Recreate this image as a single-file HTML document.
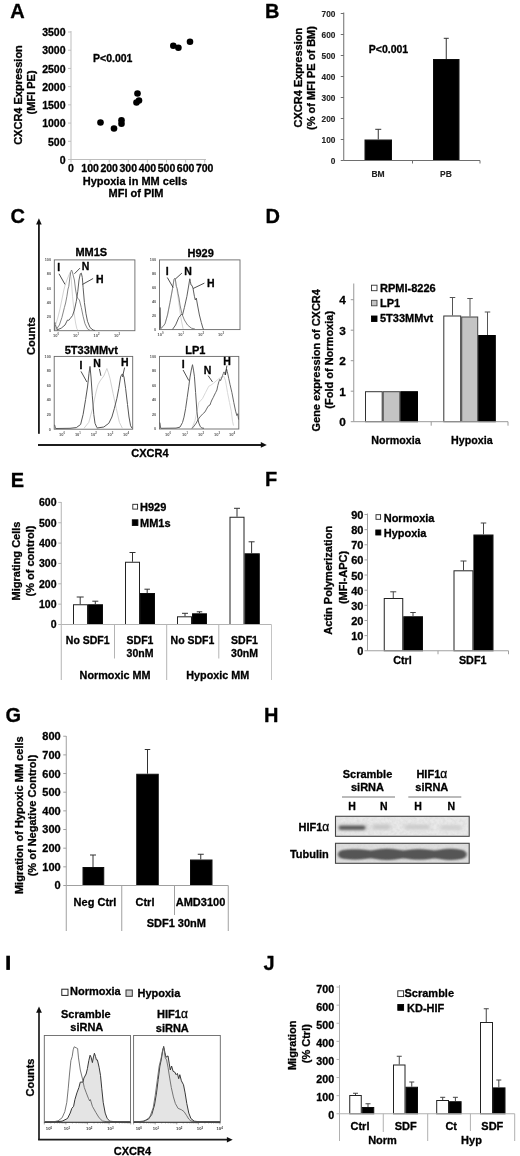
<!DOCTYPE html>
<html><head><meta charset="utf-8"><title>Figure</title>
<style>
html,body{margin:0;padding:0;background:#fff;}
body{width:520px;height:1156px;overflow:hidden;}
svg{display:block;font-family:"Liberation Sans", sans-serif;}
text{stroke:#000;stroke-width:0.3px;stroke-linejoin:round;}
text.t{stroke:none;}
text.b{stroke-width:0.12px;stroke:#222;}
</style></head>
<body>
<svg width="520" height="1156" viewBox="0 0 520 1156">
<defs><filter id="gb" x="0" y="0" width="100%" height="100%" filterUnits="userSpaceOnUse"><feGaussianBlur stdDeviation="0.42"/></filter><filter id="gb2" x="0" y="0" width="100%" height="100%" filterUnits="userSpaceOnUse"><feGaussianBlur stdDeviation="0.2"/></filter></defs>
<rect x="0" y="0" width="520" height="1156" fill="#fff"/>
<g filter="url(#gb)">
<rect x="0" y="0" width="520" height="1156" fill="#fff"/>
<text x="10.3" y="17.6" font-size="20" text-anchor="start" font-weight="bold" fill="#000">A</text>
<text x="65.5" y="163.78" font-size="10.5" text-anchor="end" font-weight="bold" fill="#000">0</text>
<text x="65.5" y="145.56571428571428" font-size="10.5" text-anchor="end" font-weight="bold" fill="#000">500</text>
<text x="65.5" y="127.35142857142857" font-size="10.5" text-anchor="end" font-weight="bold" fill="#000">1000</text>
<text x="65.5" y="109.13714285714286" font-size="10.5" text-anchor="end" font-weight="bold" fill="#000">1500</text>
<text x="65.5" y="90.92285714285714" font-size="10.5" text-anchor="end" font-weight="bold" fill="#000">2000</text>
<text x="65.5" y="72.70857142857142" font-size="10.5" text-anchor="end" font-weight="bold" fill="#000">2500</text>
<text x="65.5" y="54.49428571428571" font-size="10.5" text-anchor="end" font-weight="bold" fill="#000">3000</text>
<text x="65.5" y="36.28" font-size="10.5" text-anchor="end" font-weight="bold" fill="#000">3500</text>
<text x="71.0" y="172" font-size="10.5" text-anchor="middle" font-weight="bold" fill="#000">0</text>
<text x="90.1" y="172" font-size="10.5" text-anchor="middle" font-weight="bold" fill="#000">100</text>
<text x="109.2" y="172" font-size="10.5" text-anchor="middle" font-weight="bold" fill="#000">200</text>
<text x="128.3" y="172" font-size="10.5" text-anchor="middle" font-weight="bold" fill="#000">300</text>
<text x="147.4" y="172" font-size="10.5" text-anchor="middle" font-weight="bold" fill="#000">400</text>
<text x="166.5" y="172" font-size="10.5" text-anchor="middle" font-weight="bold" fill="#000">500</text>
<text x="185.60000000000002" y="172" font-size="10.5" text-anchor="middle" font-weight="bold" fill="#000">600</text>
<text x="204.70000000000002" y="172" font-size="10.5" text-anchor="middle" font-weight="bold" fill="#000">700</text>
<circle cx="100.5" cy="122.5" r="3.3" fill="#000"/>
<circle cx="114" cy="128.5" r="3.3" fill="#000"/>
<circle cx="121.5" cy="120.3" r="3.3" fill="#000"/>
<circle cx="121.5" cy="123.7" r="3.3" fill="#000"/>
<circle cx="137.5" cy="93.5" r="3.3" fill="#000"/>
<circle cx="136.5" cy="102.5" r="3.3" fill="#000"/>
<circle cx="139" cy="100.5" r="3.3" fill="#000"/>
<circle cx="173.3" cy="45.8" r="3.3" fill="#000"/>
<circle cx="178.4" cy="47.8" r="3.3" fill="#000"/>
<circle cx="190" cy="41.8" r="3.3" fill="#000"/>
<text x="93" y="62.3" font-size="10.5" text-anchor="start" font-weight="bold" fill="#000">P&lt;0.001</text>
<text font-size="11" font-weight="bold" text-anchor="middle" transform="translate(21.96,95) rotate(-90)">CXCR4 Expression</text>
<text font-size="11" font-weight="bold" text-anchor="middle" transform="translate(34.96,92.4) rotate(-90)">(MFI PE)</text>
<text x="135" y="185" font-size="11" text-anchor="middle" font-weight="bold" fill="#000">Hypoxia in MM cells</text>
<text x="136" y="197" font-size="11" text-anchor="middle" font-weight="bold" fill="#000">MFI of PIM</text>
<text x="265" y="18" font-size="20" text-anchor="start" font-weight="bold" fill="#000">B</text>
<text x="335.4" y="164.188" font-size="8.3" text-anchor="end" font-weight="bold" fill="#222" class="b">0</text>
<text x="335.4" y="143.188" font-size="8.3" text-anchor="end" font-weight="bold" fill="#222" class="b">100</text>
<text x="335.4" y="122.188" font-size="8.3" text-anchor="end" font-weight="bold" fill="#222" class="b">200</text>
<text x="335.4" y="101.188" font-size="8.3" text-anchor="end" font-weight="bold" fill="#222" class="b">300</text>
<text x="335.4" y="80.188" font-size="8.3" text-anchor="end" font-weight="bold" fill="#222" class="b">400</text>
<text x="335.4" y="59.188" font-size="8.3" text-anchor="end" font-weight="bold" fill="#222" class="b">500</text>
<text x="335.4" y="38.188" font-size="8.3" text-anchor="end" font-weight="bold" fill="#222" class="b">600</text>
<text x="335.4" y="17.188" font-size="8.3" text-anchor="end" font-weight="bold" fill="#222" class="b">700</text>
<rect x="365.0" y="140.0" width="26.5" height="20.5" fill="#000" stroke="#111" stroke-width="1"/>
<line x1="378.25" y1="129.3" x2="378.25" y2="139.5" stroke="#333" stroke-width="1"/>
<line x1="375.25" y1="129.3" x2="381.25" y2="129.3" stroke="#333" stroke-width="1"/>
<rect x="433.5" y="59.5" width="25.5" height="101.0" fill="#000" stroke="#111" stroke-width="1"/>
<line x1="446.25" y1="38.3" x2="446.25" y2="59" stroke="#333" stroke-width="1"/>
<line x1="443.75" y1="38.3" x2="448.75" y2="38.3" stroke="#333" stroke-width="1"/>
<text x="378" y="176.8" font-size="8.5" text-anchor="middle" font-weight="bold" fill="#222" class="b">BM</text>
<text x="446" y="176.8" font-size="8.5" text-anchor="middle" font-weight="bold" fill="#222" class="b">PB</text>
<text x="368.8" y="53" font-size="10.5" text-anchor="start" font-weight="bold" fill="#000">P&lt;0.001</text>
<text font-size="11" font-weight="bold" text-anchor="middle" transform="translate(302.15999999999997,77.6) rotate(-90)">CXCR4 Expression</text>
<text font-size="11" font-weight="bold" text-anchor="middle" transform="translate(314.96,78) rotate(-90)">(% of MFI PE of BM)</text>
<text x="10.5" y="223" font-size="20" text-anchor="start" font-weight="bold" fill="#000">C</text>
<line x1="38.9" y1="223" x2="38.9" y2="433.8" stroke="#1a1a1a" stroke-width="1.85"/>
<path d="M38.9 218.3 L36.1 224.4 L41.7 224.4 Z" fill="#111"/>
<line x1="38" y1="445" x2="262" y2="445" stroke="#1a1a1a" stroke-width="1.85"/>
<path d="M266.8 444.9 L260.8 442.1 L260.8 447.7 Z" fill="#111"/>
<text font-size="11" font-weight="bold" text-anchor="middle" transform="translate(34.96,336) rotate(-90)">Counts</text>
<text x="150" y="456.5" font-size="11" text-anchor="middle" font-weight="bold" fill="#000">CXCR4</text>
<rect x="54.3" y="259.9" width="80.60000000000001" height="70.80000000000001" fill="none" stroke="#686868" stroke-width="0.9"/>
<text x="51.0" y="261.2" font-size="3.8" text-anchor="end" font-weight="bold" fill="#555" class="t">100</text>
<text x="51.0" y="275.36" font-size="3.8" text-anchor="end" font-weight="bold" fill="#555" class="t">80</text>
<text x="51.0" y="289.52" font-size="3.8" text-anchor="end" font-weight="bold" fill="#555" class="t">60</text>
<text x="51.0" y="303.68" font-size="3.8" text-anchor="end" font-weight="bold" fill="#555" class="t">40</text>
<text x="51.0" y="317.84" font-size="3.8" text-anchor="end" font-weight="bold" fill="#555" class="t">20</text>
<text x="51.0" y="332.0" font-size="3.8" text-anchor="end" font-weight="bold" fill="#555" class="t">0</text>
<text x="56" y="336.5" class="t" font-size="4" text-anchor="middle" font-weight="bold" fill="#555">10<tspan dy="-1.6" font-size="2.8">0</tspan></text>
<text x="76" y="336.5" class="t" font-size="4" text-anchor="middle" font-weight="bold" fill="#555">10<tspan dy="-1.6" font-size="2.8">1</tspan></text>
<text x="96.5" y="336.5" class="t" font-size="4" text-anchor="middle" font-weight="bold" fill="#555">10<tspan dy="-1.6" font-size="2.8">2</tspan></text>
<text x="117" y="336.5" class="t" font-size="4" text-anchor="middle" font-weight="bold" fill="#555">10<tspan dy="-1.6" font-size="2.8">3</tspan></text>
<text x="91.3" y="256.3" font-size="11" text-anchor="middle" font-weight="bold" fill="#000">MM1S</text>
<path d="M54.8 330.0 L55.0 322.5 L55.8 326.0 L57.5 330.2" fill="none" stroke="#565656" stroke-width="0.8" stroke-linejoin="round" opacity="1"/>
<path d="M55.6 325.0 L58.0 317.0 L60.0 308.8 L62.0 299.0 L63.8 290.0 L65.3 284.5 L66.9 280.0 L68.5 276.0 L70.0 272.5 L71.2 278.0 L72.5 296.3 L73.5 306.0 L74.4 315.0 L75.6 323.0 L76.9 328.8 L78.0 330.3" fill="none" stroke="#cccccc" stroke-width="0.85" stroke-linejoin="round" opacity="1"/>
<path d="M56.3 329.4 L59.4 325.0 L61.9 317.5 L64.4 307.5 L65.6 303.0 L66.9 296.3 L68.0 289.0 L68.8 286.3 L70.0 276.3 L70.8 272.0 L71.5 270.0 L72.3 271.5 L73.1 275.0 L74.4 280.0 L75.6 290.0 L76.9 296.9 L78.0 298.5 L79.4 300.0 L81.3 307.5 L83.1 316.3 L85.0 323.8 L87.5 328.8 L90.0 330.4" fill="none" stroke="#787878" stroke-width="0.9" stroke-linejoin="round" opacity="1"/>
<path d="M56.9 330.0 L61.3 328.1 L65.0 325.0 L67.5 320.0 L68.8 320.3 L70.0 318.8 L72.5 315.6 L74.4 310.0 L76.3 301.3 L77.8 291.3 L79.0 280.0 L80.3 273.8 L81.3 273.1 L82.3 277.5 L83.1 287.5 L84.4 302.5 L86.0 313.8 L87.5 321.3 L90.0 327.5 L93.1 330.0 L95.0 330.5" fill="none" stroke="#565656" stroke-width="0.95" stroke-linejoin="round" opacity="1"/>
<text x="58.8" y="271.3" font-size="10.5" text-anchor="middle" font-weight="bold" fill="#000">I</text>
<text x="85.6" y="269.8" font-size="10.5" text-anchor="middle" font-weight="bold" fill="#000">N</text>
<text x="99.7" y="282.8" font-size="10.5" text-anchor="middle" font-weight="bold" fill="#000">H</text>
<line x1="59" y1="273.8" x2="65" y2="284.4" stroke="#222" stroke-width="0.8"/>
<line x1="80" y1="268.1" x2="74.4" y2="273.8" stroke="#222" stroke-width="0.8"/>
<line x1="93.1" y1="278.5" x2="82.5" y2="284.4" stroke="#222" stroke-width="0.8"/>
<rect x="159.5" y="259.9" width="80.5" height="69.70000000000005" fill="none" stroke="#686868" stroke-width="0.9"/>
<text x="156.2" y="261.2" font-size="3.8" text-anchor="end" font-weight="bold" fill="#555" class="t">100</text>
<text x="156.2" y="275.14" font-size="3.8" text-anchor="end" font-weight="bold" fill="#555" class="t">80</text>
<text x="156.2" y="289.08" font-size="3.8" text-anchor="end" font-weight="bold" fill="#555" class="t">60</text>
<text x="156.2" y="303.02000000000004" font-size="3.8" text-anchor="end" font-weight="bold" fill="#555" class="t">40</text>
<text x="156.2" y="316.96000000000004" font-size="3.8" text-anchor="end" font-weight="bold" fill="#555" class="t">20</text>
<text x="156.2" y="330.90000000000003" font-size="3.8" text-anchor="end" font-weight="bold" fill="#555" class="t">0</text>
<text x="160.5" y="335.5" class="t" font-size="4" text-anchor="middle" font-weight="bold" fill="#555">10<tspan dy="-1.6" font-size="2.8">0</tspan></text>
<text x="181" y="335.5" class="t" font-size="4" text-anchor="middle" font-weight="bold" fill="#555">10<tspan dy="-1.6" font-size="2.8">1</tspan></text>
<text x="201" y="335.5" class="t" font-size="4" text-anchor="middle" font-weight="bold" fill="#555">10<tspan dy="-1.6" font-size="2.8">2</tspan></text>
<text x="221" y="335.5" class="t" font-size="4" text-anchor="middle" font-weight="bold" fill="#555">10<tspan dy="-1.6" font-size="2.8">3</tspan></text>
<text x="200.7" y="256.8" font-size="11" text-anchor="middle" font-weight="bold" fill="#000">H929</text>
<path d="M159.9 329.0 L160.0 307.5 L160.7 329.0" fill="none" stroke="#565656" stroke-width="0.9" stroke-linejoin="round" opacity="1"/>
<path d="M160.6 328.8 L165.0 323.8 L167.5 315.0 L170.0 302.5 L172.5 288.8 L174.0 279.6 L175.0 278.5 L176.8 289.0 L178.8 302.5 L180.0 312.0 L181.3 320.0 L183.1 328.8" fill="none" stroke="#cccccc" stroke-width="0.85" stroke-linejoin="round" opacity="1"/>
<path d="M160.6 328.8 L163.0 326.5 L165.0 323.8 L167.5 315.0 L170.0 302.5 L172.5 288.8 L174.0 279.4 L175.0 278.1 L175.6 281.0 L176.3 286.3 L177.2 288.5 L178.1 293.8 L179.0 298.0 L180.0 305.0 L181.9 313.8 L184.4 320.0 L187.5 325.0 L191.3 328.1 L195.0 329.1" fill="none" stroke="#787878" stroke-width="0.9" stroke-linejoin="round" opacity="1"/>
<path d="M172.5 329.4 L175.6 325.0 L178.8 317.5 L181.3 314.4 L182.5 315.0 L184.4 307.5 L186.9 296.3 L188.8 285.0 L189.8 278.8 L190.4 281.5 L191.0 285.0 L192.1 285.6 L193.1 288.8 L194.4 296.3 L195.3 300.0 L196.3 298.1 L197.5 305.0 L199.4 315.0 L201.3 322.5 L203.1 328.8 L204.0 329.4" fill="none" stroke="#565656" stroke-width="0.95" stroke-linejoin="round" opacity="1"/>
<text x="167.2" y="275" font-size="10.5" text-anchor="middle" font-weight="bold" fill="#000">I</text>
<text x="188.1" y="274.6" font-size="10.5" text-anchor="middle" font-weight="bold" fill="#000">N</text>
<text x="210.9" y="286.9" font-size="10.5" text-anchor="middle" font-weight="bold" fill="#000">H</text>
<line x1="167.3" y1="277.5" x2="173.1" y2="287.5" stroke="#222" stroke-width="0.8"/>
<line x1="181.9" y1="273.1" x2="175.6" y2="278.8" stroke="#222" stroke-width="0.8"/>
<line x1="204.4" y1="283.1" x2="193.1" y2="288.5" stroke="#222" stroke-width="0.8"/>
<rect x="54.2" y="356.4" width="78.49999999999999" height="72.80000000000001" fill="none" stroke="#686868" stroke-width="0.9"/>
<text x="50.900000000000006" y="357.7" font-size="3.8" text-anchor="end" font-weight="bold" fill="#555" class="t">100</text>
<text x="50.900000000000006" y="372.26" font-size="3.8" text-anchor="end" font-weight="bold" fill="#555" class="t">80</text>
<text x="50.900000000000006" y="386.82" font-size="3.8" text-anchor="end" font-weight="bold" fill="#555" class="t">60</text>
<text x="50.900000000000006" y="401.38" font-size="3.8" text-anchor="end" font-weight="bold" fill="#555" class="t">40</text>
<text x="50.900000000000006" y="415.94" font-size="3.8" text-anchor="end" font-weight="bold" fill="#555" class="t">20</text>
<text x="50.900000000000006" y="430.5" font-size="3.8" text-anchor="end" font-weight="bold" fill="#555" class="t">0</text>
<text x="62.1" y="436" class="t" font-size="4" text-anchor="middle" font-weight="bold" fill="#555">10<tspan dy="-1.6" font-size="2.8">0</tspan></text>
<text x="77.9" y="436" class="t" font-size="4" text-anchor="middle" font-weight="bold" fill="#555">10<tspan dy="-1.6" font-size="2.8">1</tspan></text>
<text x="93.8" y="436" class="t" font-size="4" text-anchor="middle" font-weight="bold" fill="#555">10<tspan dy="-1.6" font-size="2.8">2</tspan></text>
<text x="110.2" y="436" class="t" font-size="4" text-anchor="middle" font-weight="bold" fill="#555">10<tspan dy="-1.6" font-size="2.8">3</tspan></text>
<text x="126" y="436" class="t" font-size="4" text-anchor="middle" font-weight="bold" fill="#555">10<tspan dy="-1.6" font-size="2.8">4</tspan></text>
<text x="91.3" y="354" font-size="11" text-anchor="middle" font-weight="bold" fill="#000">5T33MMvt</text>
<path d="M54.6 424.8 L55.6 428.5" fill="none" stroke="#565656" stroke-width="0.9" stroke-linejoin="round" opacity="1"/>
<path d="M83.8 428.5 L88.8 422.3 L92.5 408.8 L94.4 399.8 L96.3 391.0 L98.0 384.8 L100.0 381.0 L102.0 378.3 L103.8 376.0 L105.5 371.8 L106.9 368.5 L108.4 372.8 L110.0 378.5 L113.1 393.5 L116.3 408.5 L119.4 422.3 L122.5 428.5" fill="none" stroke="#cccccc" stroke-width="0.9" stroke-linejoin="round" opacity="1"/>
<path d="M55.6 428.5 L70.0 428.3 L76.3 427.6 L80.6 424.5 L83.1 414.5 L85.6 399.5 L87.5 387.0 L89.0 373.3 L90.0 366.4 L91.0 377.0 L92.3 395.8 L93.8 414.5 L95.0 423.3 L96.9 427.6" fill="none" stroke="#565656" stroke-width="1.0" stroke-linejoin="round" opacity="1"/>
<path d="M96.9 428.0 L103.8 427.0 L108.8 423.3 L111.9 417.0 L114.4 408.3 L116.9 398.3 L118.8 388.3 L120.6 377.0 L121.6 374.8 L122.5 373.9 L124.0 377.0 L125.6 388.3 L127.5 404.5 L129.0 417.0 L130.6 425.8 L132.1 428.3" fill="none" stroke="#565656" stroke-width="1.0" stroke-linejoin="round" opacity="1"/>
<text x="81" y="369.2" font-size="10.5" text-anchor="middle" font-weight="bold" fill="#000">I</text>
<text x="97" y="367.2" font-size="10.5" text-anchor="middle" font-weight="bold" fill="#000">N</text>
<text x="124.7" y="366" font-size="10.5" text-anchor="middle" font-weight="bold" fill="#000">H</text>
<line x1="81" y1="371.4" x2="86.9" y2="382" stroke="#222" stroke-width="0.8"/>
<line x1="99.4" y1="368.9" x2="100.9" y2="375.8" stroke="#222" stroke-width="0.8"/>
<line x1="124.6" y1="367.6" x2="122.5" y2="377" stroke="#222" stroke-width="0.8"/>
<rect x="159.5" y="356.4" width="79.30000000000001" height="72.60000000000002" fill="none" stroke="#686868" stroke-width="0.9"/>
<text x="156.2" y="357.7" font-size="3.8" text-anchor="end" font-weight="bold" fill="#555" class="t">100</text>
<text x="156.2" y="372.21999999999997" font-size="3.8" text-anchor="end" font-weight="bold" fill="#555" class="t">80</text>
<text x="156.2" y="386.74" font-size="3.8" text-anchor="end" font-weight="bold" fill="#555" class="t">60</text>
<text x="156.2" y="401.26" font-size="3.8" text-anchor="end" font-weight="bold" fill="#555" class="t">40</text>
<text x="156.2" y="415.78000000000003" font-size="3.8" text-anchor="end" font-weight="bold" fill="#555" class="t">20</text>
<text x="156.2" y="430.3" font-size="3.8" text-anchor="end" font-weight="bold" fill="#555" class="t">0</text>
<text x="168" y="435.5" class="t" font-size="4" text-anchor="middle" font-weight="bold" fill="#555">10<tspan dy="-1.6" font-size="2.8">0</tspan></text>
<text x="185" y="435.5" class="t" font-size="4" text-anchor="middle" font-weight="bold" fill="#555">10<tspan dy="-1.6" font-size="2.8">1</tspan></text>
<text x="201" y="435.5" class="t" font-size="4" text-anchor="middle" font-weight="bold" fill="#555">10<tspan dy="-1.6" font-size="2.8">2</tspan></text>
<text x="217" y="435.5" class="t" font-size="4" text-anchor="middle" font-weight="bold" fill="#555">10<tspan dy="-1.6" font-size="2.8">3</tspan></text>
<text x="232" y="435.5" class="t" font-size="4" text-anchor="middle" font-weight="bold" fill="#555">10<tspan dy="-1.6" font-size="2.8">4</tspan></text>
<text x="195.4" y="354" font-size="11" text-anchor="middle" font-weight="bold" fill="#000">LP1</text>
<path d="M159.9 422.6 L160.7 428.3" fill="none" stroke="#565656" stroke-width="0.9" stroke-linejoin="round" opacity="1"/>
<path d="M192.0 428.1 L195.0 420.6 L198.8 402.6 L202.5 398.6 L205.5 392.6 L208.8 386.2 L211.0 385.1 L213.8 383.0 L216.0 381.1 L218.8 378.7 L221.0 377.6 L223.8 376.2 L225.5 380.6 L227.5 392.5 L229.5 402.6 L231.3 411.2 L232.5 421.2 L233.5 425.6" fill="none" stroke="#d4d4d4" stroke-width="0.9" stroke-linejoin="round" opacity="1"/>
<path d="M160.7 428.3 L176.0 428.1 L180.0 427.1 L182.5 422.5 L184.0 417.1 L185.6 408.7 L187.2 397.6 L188.8 386.2 L190.0 377.1 L191.3 370.0 L192.5 364.7 L193.5 370.1 L194.4 376.2 L195.6 392.5 L196.9 411.2 L197.8 418.6 L198.8 423.0 L200.3 426.6 L201.9 428.0 L204.0 428.3" fill="none" stroke="#565656" stroke-width="0.95" stroke-linejoin="round" opacity="1"/>
<path d="M191.9 428.6 L194.0 426.1 L196.3 423.0 L198.0 419.6 L200.0 416.9 L202.5 414.1 L205.0 411.9 L206.5 409.1 L208.1 406.2 L210.0 405.0 L211.0 402.1 L211.9 400.0 L213.2 397.6 L214.4 395.0 L215.6 392.6 L216.9 390.0 L217.8 385.6 L218.8 381.9 L219.8 379.4 L220.6 380.6 L221.6 378.1 L222.5 375.6 L223.3 373.6 L224.0 371.9 L224.7 373.6 L225.3 375.0 L226.0 371.6 L226.6 369.0 L227.3 371.6 L228.8 378.7 L230.0 384.4 L231.9 392.5 L233.8 402.5 L235.6 411.2 L236.9 415.6 L237.8 413.7 L238.6 419.6" fill="none" stroke="#585858" stroke-width="0.9" stroke-linejoin="round" opacity="1"/>
<text x="183.2" y="368.1" font-size="10.5" text-anchor="middle" font-weight="bold" fill="#000">I</text>
<text x="207.5" y="373.8" font-size="10.5" text-anchor="middle" font-weight="bold" fill="#000">N</text>
<text x="227" y="364.8" font-size="10.5" text-anchor="middle" font-weight="bold" fill="#000">H</text>
<line x1="183.1" y1="370" x2="188.8" y2="380.6" stroke="#222" stroke-width="0.8"/>
<line x1="208.1" y1="375.6" x2="212.5" y2="381.9" stroke="#222" stroke-width="0.8"/>
<line x1="226.9" y1="365.6" x2="225.3" y2="375" stroke="#222" stroke-width="0.8"/>
<text x="265.5" y="222.7" font-size="20" text-anchor="start" font-weight="bold" fill="#000">D</text>
<text x="345.8" y="426.34799999999996" font-size="11.8" text-anchor="end" font-weight="bold" fill="#000">0</text>
<text x="345.8" y="395.84799999999996" font-size="11.8" text-anchor="end" font-weight="bold" fill="#000">1</text>
<text x="345.8" y="365.34799999999996" font-size="11.8" text-anchor="end" font-weight="bold" fill="#000">2</text>
<text x="345.8" y="334.84799999999996" font-size="11.8" text-anchor="end" font-weight="bold" fill="#000">3</text>
<text x="345.8" y="304.34799999999996" font-size="11.8" text-anchor="end" font-weight="bold" fill="#000">4</text>
<rect x="371.5" y="285.2" width="5.5" height="5.5" fill="#fff" stroke="#333" stroke-width="0.9"/>
<rect x="371.5" y="300.3" width="5.5" height="5.5" fill="#c4c4c4" stroke="#444" stroke-width="0.9"/>
<rect x="371.5" y="316" width="5.5" height="5.5" fill="#000" stroke="#000" stroke-width="0.9"/>
<text x="380" y="291.7" font-size="11" text-anchor="start" font-weight="bold" fill="#000">RPMI-8226</text>
<text x="380" y="306.7" font-size="11" text-anchor="start" font-weight="bold" fill="#000">LP1</text>
<text x="380" y="322.3" font-size="11" text-anchor="start" font-weight="bold" fill="#000">5T33MMvt</text>
<rect x="365.5" y="391.7" width="16.69999999999999" height="30.0" fill="#fff" stroke="#333" stroke-width="1"/>
<rect x="383.2" y="391.7" width="16.600000000000023" height="30.0" fill="#c4c4c4" stroke="#444" stroke-width="1"/>
<rect x="400.8" y="391.7" width="16.69999999999999" height="30.0" fill="#000" stroke="#000" stroke-width="1"/>
<rect x="443.8" y="316.0" width="16.899999999999977" height="105.69999999999999" fill="#fff" stroke="#333" stroke-width="1"/>
<rect x="461.7" y="317.0" width="16.0" height="104.69999999999999" fill="#c4c4c4" stroke="#444" stroke-width="1"/>
<rect x="478.7" y="335.5" width="16.600000000000023" height="86.19999999999999" fill="#000" stroke="#000" stroke-width="1"/>
<line x1="452.5" y1="297.5" x2="452.5" y2="315.5" stroke="#555" stroke-width="1"/>
<line x1="449.75" y1="297.5" x2="455.25" y2="297.5" stroke="#555" stroke-width="1"/>
<line x1="470" y1="298.5" x2="470" y2="316.5" stroke="#555" stroke-width="1"/>
<line x1="467.25" y1="298.5" x2="472.75" y2="298.5" stroke="#555" stroke-width="1"/>
<line x1="487.5" y1="312" x2="487.5" y2="335" stroke="#555" stroke-width="1"/>
<line x1="484.75" y1="312" x2="490.25" y2="312" stroke="#555" stroke-width="1"/>
<text x="396" y="444.2" font-size="10.7" text-anchor="middle" font-weight="bold" fill="#000">Normoxia</text>
<text x="471.9" y="444.2" font-size="10.7" text-anchor="middle" font-weight="bold" fill="#000">Hypoxia</text>
<text font-size="11" font-weight="bold" text-anchor="middle" transform="translate(320.15999999999997,360.3) rotate(-90)">Gene expression of CXCR4</text>
<text font-size="11" font-weight="bold" text-anchor="middle" transform="translate(333.46,359.8) rotate(-90)">(Fold of Normoxia)</text>
<text x="10.8" y="486.9" font-size="20" text-anchor="start" font-weight="bold" fill="#000">E</text>
<text x="56.5" y="628.28" font-size="10.5" text-anchor="end" font-weight="bold" fill="#000">0</text>
<text x="56.5" y="607.93" font-size="10.5" text-anchor="end" font-weight="bold" fill="#000">100</text>
<text x="56.5" y="587.5799999999999" font-size="10.5" text-anchor="end" font-weight="bold" fill="#000">200</text>
<text x="56.5" y="567.23" font-size="10.5" text-anchor="end" font-weight="bold" fill="#000">300</text>
<text x="56.5" y="546.88" font-size="10.5" text-anchor="end" font-weight="bold" fill="#000">400</text>
<text x="56.5" y="526.53" font-size="10.5" text-anchor="end" font-weight="bold" fill="#000">500</text>
<text x="56.5" y="506.17999999999995" font-size="10.5" text-anchor="end" font-weight="bold" fill="#000">600</text>
<rect x="73.5" y="604.75" width="14" height="19.75" fill="#fff" stroke="#222" stroke-width="1"/>
<rect x="88.5" y="604.75" width="14" height="19.75" fill="#000" stroke="#111" stroke-width="1"/>
<line x1="80.2" y1="597" x2="80.2" y2="604.25" stroke="#333" stroke-width="1"/>
<line x1="76.7" y1="597" x2="83.7" y2="597" stroke="#333" stroke-width="1"/>
<line x1="95.3" y1="601.2" x2="95.3" y2="604.25" stroke="#333" stroke-width="1"/>
<line x1="92.3" y1="601.2" x2="98.3" y2="601.2" stroke="#333" stroke-width="1"/>
<rect x="125.5" y="562.25" width="14" height="62.25" fill="#fff" stroke="#222" stroke-width="1"/>
<rect x="140.5" y="593.5" width="14" height="31.0" fill="#000" stroke="#111" stroke-width="1"/>
<line x1="132.5" y1="552.5" x2="132.5" y2="561.75" stroke="#333" stroke-width="1"/>
<line x1="129.5" y1="552.5" x2="135.5" y2="552.5" stroke="#333" stroke-width="1"/>
<line x1="147.2" y1="589.2" x2="147.2" y2="593" stroke="#333" stroke-width="1"/>
<line x1="144.45" y1="589.2" x2="149.95" y2="589.2" stroke="#333" stroke-width="1"/>
<rect x="177.5" y="616.8" width="14" height="7.7000000000000455" fill="#fff" stroke="#222" stroke-width="1"/>
<rect x="192.5" y="613.8" width="14" height="10.700000000000045" fill="#000" stroke="#111" stroke-width="1"/>
<line x1="185" y1="613.3" x2="185" y2="616.3" stroke="#333" stroke-width="1"/>
<line x1="182.0" y1="613.3" x2="188.0" y2="613.3" stroke="#333" stroke-width="1"/>
<line x1="199.5" y1="611.8" x2="199.5" y2="613.3" stroke="#333" stroke-width="1"/>
<line x1="196.75" y1="611.8" x2="202.25" y2="611.8" stroke="#333" stroke-width="1"/>
<rect x="230.0" y="517.25" width="14.0" height="107.25" fill="#fff" stroke="#222" stroke-width="1"/>
<rect x="245.0" y="553.8" width="14.300000000000011" height="70.70000000000005" fill="#000" stroke="#111" stroke-width="1"/>
<line x1="237" y1="508.3" x2="237" y2="516.75" stroke="#333" stroke-width="1"/>
<line x1="234.0" y1="508.3" x2="240.0" y2="508.3" stroke="#333" stroke-width="1"/>
<line x1="251.6" y1="541.8" x2="251.6" y2="553.3" stroke="#333" stroke-width="1"/>
<line x1="248.6" y1="541.8" x2="254.6" y2="541.8" stroke="#333" stroke-width="1"/>
<rect x="132.8" y="504.3" width="4.8" height="4.8" fill="#fff" stroke="#222" stroke-width="0.9"/>
<rect x="132.3" y="519.8" width="5.6" height="5.6" fill="#000" stroke="#000" stroke-width="0.9"/>
<text x="140" y="510.8" font-size="11" text-anchor="start" font-weight="bold" fill="#000">H929</text>
<text x="140" y="527" font-size="11" text-anchor="start" font-weight="bold" fill="#000">MM1s</text>
<text x="87.7" y="644.4" font-size="10.5" text-anchor="middle" font-weight="bold" fill="#000">No SDF1</text>
<text x="140" y="644.4" font-size="10.5" text-anchor="middle" font-weight="bold" fill="#000">SDF1</text>
<text x="140" y="657" font-size="10.5" text-anchor="middle" font-weight="bold" fill="#000">30nM</text>
<text x="192.5" y="644.4" font-size="10.5" text-anchor="middle" font-weight="bold" fill="#000">No SDF1</text>
<text x="244.5" y="644.4" font-size="10.5" text-anchor="middle" font-weight="bold" fill="#000">SDF1</text>
<text x="244.5" y="657" font-size="10.5" text-anchor="middle" font-weight="bold" fill="#000">30nM</text>
<text x="115" y="679" font-size="10.8" text-anchor="middle" font-weight="bold" fill="#000">Normoxic MM</text>
<text x="217.8" y="679" font-size="10.8" text-anchor="middle" font-weight="bold" fill="#000">Hypoxic MM</text>
<text font-size="11" font-weight="bold" text-anchor="middle" transform="translate(20.46,561) rotate(-90)">Migrating Cells</text>
<text font-size="11" font-weight="bold" text-anchor="middle" transform="translate(33.96,561) rotate(-90)">(% of control)</text>
<text x="265" y="486.3" font-size="20" text-anchor="start" font-weight="bold" fill="#000">F</text>
<text x="363.4" y="655.21" font-size="11" text-anchor="end" font-weight="bold" fill="#000">0</text>
<text x="363.4" y="640.07" font-size="11" text-anchor="end" font-weight="bold" fill="#000">10</text>
<text x="363.4" y="624.9300000000001" font-size="11" text-anchor="end" font-weight="bold" fill="#000">20</text>
<text x="363.4" y="609.7900000000001" font-size="11" text-anchor="end" font-weight="bold" fill="#000">30</text>
<text x="363.4" y="594.6500000000001" font-size="11" text-anchor="end" font-weight="bold" fill="#000">40</text>
<text x="363.4" y="579.51" font-size="11" text-anchor="end" font-weight="bold" fill="#000">50</text>
<text x="363.4" y="564.37" font-size="11" text-anchor="end" font-weight="bold" fill="#000">60</text>
<text x="363.4" y="549.23" font-size="11" text-anchor="end" font-weight="bold" fill="#000">70</text>
<text x="363.4" y="534.09" font-size="11" text-anchor="end" font-weight="bold" fill="#000">80</text>
<text x="363.4" y="518.95" font-size="11" text-anchor="end" font-weight="bold" fill="#000">90</text>
<rect x="376" y="514.7" width="4.6" height="4.6" fill="#fff" stroke="#222" stroke-width="0.9"/>
<rect x="375.8" y="530" width="5" height="5" fill="#000" stroke="#000" stroke-width="0.9"/>
<text x="383.7" y="521.8" font-size="11" text-anchor="start" font-weight="bold" fill="#000">Normoxia</text>
<text x="383.7" y="537" font-size="11" text-anchor="start" font-weight="bold" fill="#000">Hypoxia</text>
<rect x="384.25" y="598.5" width="18.5" height="52.25" fill="#fff" stroke="#222" stroke-width="1"/>
<rect x="403.75" y="616.75" width="18.75" height="34.0" fill="#000" stroke="#111" stroke-width="1"/>
<line x1="393.25" y1="591.8" x2="393.25" y2="598" stroke="#444" stroke-width="1"/>
<line x1="390.25" y1="591.8" x2="396.25" y2="591.8" stroke="#444" stroke-width="1"/>
<line x1="413" y1="612.5" x2="413" y2="616.25" stroke="#444" stroke-width="1"/>
<line x1="410.25" y1="612.5" x2="415.75" y2="612.5" stroke="#444" stroke-width="1"/>
<rect x="454.0" y="570.8" width="18.899999999999977" height="79.95000000000005" fill="#fff" stroke="#222" stroke-width="1"/>
<rect x="473.9" y="535.0" width="19.100000000000023" height="115.75" fill="#000" stroke="#111" stroke-width="1"/>
<line x1="463.5" y1="561" x2="463.5" y2="570.3" stroke="#444" stroke-width="1"/>
<line x1="460.5" y1="561" x2="466.5" y2="561" stroke="#444" stroke-width="1"/>
<line x1="483.5" y1="523" x2="483.5" y2="534.5" stroke="#444" stroke-width="1"/>
<line x1="480.75" y1="523" x2="486.25" y2="523" stroke="#444" stroke-width="1"/>
<text x="402.5" y="664.3" font-size="10.8" text-anchor="middle" font-weight="bold" fill="#000">Ctrl</text>
<text x="472.7" y="664.3" font-size="10.8" text-anchor="middle" font-weight="bold" fill="#000">SDF1</text>
<text font-size="11" font-weight="bold" text-anchor="middle" transform="translate(331.65999999999997,580.3) rotate(-90)">Actin Polymerization</text>
<text font-size="11" font-weight="bold" text-anchor="middle" transform="translate(346.56,577.5) rotate(-90)">(MFI-APC)</text>
<text x="5.5" y="721.5" font-size="20" text-anchor="start" font-weight="bold" fill="#000">G</text>
<text x="60.7" y="889.46" font-size="11" text-anchor="end" font-weight="bold" fill="#000">0</text>
<text x="60.7" y="870.8000000000001" font-size="11" text-anchor="end" font-weight="bold" fill="#000">100</text>
<text x="60.7" y="852.14" font-size="11" text-anchor="end" font-weight="bold" fill="#000">200</text>
<text x="60.7" y="833.48" font-size="11" text-anchor="end" font-weight="bold" fill="#000">300</text>
<text x="60.7" y="814.82" font-size="11" text-anchor="end" font-weight="bold" fill="#000">400</text>
<text x="60.7" y="796.1600000000001" font-size="11" text-anchor="end" font-weight="bold" fill="#000">500</text>
<text x="60.7" y="777.5" font-size="11" text-anchor="end" font-weight="bold" fill="#000">600</text>
<text x="60.7" y="758.84" font-size="11" text-anchor="end" font-weight="bold" fill="#000">700</text>
<text x="60.7" y="740.1800000000001" font-size="11" text-anchor="end" font-weight="bold" fill="#000">800</text>
<rect x="83.0" y="867.5" width="20.75" height="18.0" fill="#000" stroke="#111" stroke-width="1"/>
<line x1="93" y1="855" x2="93" y2="867" stroke="#333" stroke-width="1"/>
<line x1="90.0" y1="855" x2="96.0" y2="855" stroke="#333" stroke-width="1"/>
<rect x="136.75" y="774.25" width="21.5" height="111.25" fill="#000" stroke="#111" stroke-width="1"/>
<line x1="147.5" y1="749.5" x2="147.5" y2="773.75" stroke="#333" stroke-width="1"/>
<line x1="144.75" y1="749.5" x2="150.25" y2="749.5" stroke="#333" stroke-width="1"/>
<rect x="190.5" y="860.0" width="21.5" height="25.5" fill="#000" stroke="#111" stroke-width="1"/>
<line x1="200.75" y1="854.25" x2="200.75" y2="859.5" stroke="#333" stroke-width="1"/>
<line x1="197.75" y1="854.25" x2="203.75" y2="854.25" stroke="#333" stroke-width="1"/>
<text x="95" y="905.8" font-size="11" text-anchor="middle" font-weight="bold" fill="#000">Neg Ctrl</text>
<text x="145" y="905.8" font-size="11" text-anchor="middle" font-weight="bold" fill="#000">Ctrl</text>
<text x="200.5" y="905.8" font-size="11" text-anchor="middle" font-weight="bold" fill="#000">AMD3100</text>
<text x="176.3" y="927" font-size="11" text-anchor="middle" font-weight="bold" fill="#000">SDF1 30nM</text>
<text font-size="11" font-weight="bold" text-anchor="middle" transform="translate(23.16,815.2) rotate(-90)">Migration of Hypoxic MM cells</text>
<text font-size="11" font-weight="bold" text-anchor="middle" transform="translate(36.26,815.5) rotate(-90)">(% of Negative Control)</text>
<text x="264" y="722" font-size="20" text-anchor="start" font-weight="bold" fill="#000">H</text>
<text x="367.5" y="778.4" font-size="11" text-anchor="middle" font-weight="bold" fill="#000">Scramble</text>
<text x="367.5" y="791" font-size="11" text-anchor="middle" font-weight="bold" fill="#000">siRNA</text>
<text x="431.8" y="778.4" font-size="11" text-anchor="middle" font-weight="bold" fill="#000">HIF1<tspan class="t" font-size="12" font-weight="normal">&#945;</tspan></text>
<text x="431.8" y="791" font-size="11" text-anchor="middle" font-weight="bold" fill="#000">siRNA</text>
<line x1="342" y1="797" x2="395" y2="797" stroke="#777" stroke-width="1"/>
<line x1="408.3" y1="797" x2="461.3" y2="797" stroke="#777" stroke-width="1"/>
<text x="352" y="810.2" font-size="10.5" text-anchor="middle" font-weight="bold" fill="#000">H</text>
<text x="383.8" y="810.2" font-size="10.5" text-anchor="middle" font-weight="bold" fill="#000">N</text>
<text x="418" y="810.2" font-size="10.5" text-anchor="middle" font-weight="bold" fill="#000">H</text>
<text x="451.3" y="810.2" font-size="10.5" text-anchor="middle" font-weight="bold" fill="#000">N</text>
<text x="329.3" y="831" font-size="11" text-anchor="end" font-weight="bold" fill="#000">HIF1<tspan class="t" font-size="12" font-weight="normal">&#945;</tspan></text>
<text x="328.8" y="858.4" font-size="11" text-anchor="end" font-weight="bold" fill="#000">Tubulin</text>
<defs><filter id="bl1" x="-20%" y="-150%" width="140%" height="400%"><feGaussianBlur stdDeviation="1.2 0.9"/></filter><filter id="bl2" x="-20%" y="-50%" width="140%" height="200%"><feGaussianBlur stdDeviation="1.8 1.3"/></filter><filter id="bl3" x="-30%" y="-150%" width="160%" height="400%"><feGaussianBlur stdDeviation="2.2 1.4"/></filter><filter id="noise" x="0" y="0" width="100%" height="100%"><feTurbulence type="fractalNoise" baseFrequency="0.35" numOctaves="2" seed="7" result="n"/><feColorMatrix in="n" type="matrix" values="0 0 0 0 0.5  0 0 0 0 0.5  0 0 0 0 0.5  0.9 0 0 0 -0.32"/></filter><clipPath id="c1"><rect x="336" y="816.8" width="132.7" height="19"/></clipPath><clipPath id="c2"><rect x="336" y="843.8" width="132.7" height="19"/></clipPath></defs>
<rect x="335.5" y="816.3" width="133.7" height="20" fill="#e9e9e9" stroke="#444" stroke-width="1.1"/>
<g clip-path="url(#c1)">
<rect x="336" y="816.8" width="132.7" height="19" filter="url(#noise)" opacity="0.55"/>
<rect x="338" y="824.3" width="29" height="6.5" rx="3" fill="#b4b4b4" filter="url(#bl3)"/>
<rect x="339" y="826" width="26" height="3.4" rx="1.6" fill="#585858" filter="url(#bl1)"/>
<rect x="372" y="824.5" width="19" height="5" rx="2" fill="#c6c6c6" filter="url(#bl3)"/>
<rect x="404" y="824.5" width="26" height="5" rx="2" fill="#cccccc" filter="url(#bl3)"/>
<rect x="440" y="825" width="22" height="5" rx="2" fill="#d0d0d0" filter="url(#bl3)"/>
</g>
<rect x="335.5" y="843.3" width="133.7" height="20" fill="#dedede" stroke="#444" stroke-width="1.1"/>
<g clip-path="url(#c2)">
<rect x="336" y="843.8" width="132.7" height="19" filter="url(#noise)" opacity="0.4"/>
<rect x="339" y="850.6" width="126" height="7.6" rx="3.8" fill="#585858" filter="url(#bl2)"/>
<ellipse cx="355.0" cy="854.4" rx="16.5" ry="5.0" fill="#545454" filter="url(#bl2)"/>
<ellipse cx="387.0" cy="854.4" rx="17.0" ry="5.6" fill="#545454" filter="url(#bl2)"/>
<ellipse cx="419.0" cy="854.4" rx="17.0" ry="5.2" fill="#545454" filter="url(#bl2)"/>
<ellipse cx="450.25" cy="854.4" rx="16.25" ry="5.6" fill="#545454" filter="url(#bl2)"/>
</g>
<rect x="6.3" y="955.7" width="3.6" height="14.2" fill="#000"/>
<rect x="61.8" y="989.2" width="6.2" height="6.2" fill="#fff" stroke="#222" stroke-width="1"/>
<text x="70" y="995.2" font-size="11" text-anchor="start" font-weight="bold" fill="#000">Normoxia</text>
<rect x="126" y="990" width="6.3" height="6.3" fill="#cfcfcf" stroke="#333" stroke-width="1"/>
<text x="137.5" y="996.7" font-size="11" text-anchor="start" font-weight="bold" fill="#000">Hypoxia</text>
<line x1="39" y1="1011" x2="39" y2="1139.7" stroke="#2a2a2a" stroke-width="1.8"/>
<path d="M39 1006.6 L36.1 1012.7 L41.9 1012.7 Z" fill="#111"/>
<line x1="38.1" y1="1139.7" x2="228" y2="1139.7" stroke="#1a1a1a" stroke-width="1.8"/>
<path d="M232.7 1139.7 L226.9 1136.9 L226.9 1142.5 Z" fill="#111"/>
<text font-size="11" font-weight="bold" text-anchor="middle" transform="translate(33.96,1077.5) rotate(-90)">Counts</text>
<text x="132.5" y="1155" font-size="11" text-anchor="middle" font-weight="bold" fill="#000">CXCR4</text>
<text x="85.8" y="1017.7" font-size="11" text-anchor="middle" font-weight="bold" fill="#000">Scramble</text>
<text x="86.8" y="1031" font-size="11" text-anchor="middle" font-weight="bold" fill="#000">siRNA</text>
<text x="172.5" y="1017.5" font-size="11" text-anchor="middle" font-weight="bold" fill="#000">HIF1<tspan class="t" font-size="12" font-weight="normal">&#945;</tspan></text>
<text x="172.3" y="1031.5" font-size="11" text-anchor="middle" font-weight="bold" fill="#000">siRNA</text>
<rect x="44.3" y="1035.5" width="86.2" height="86.7" fill="none" stroke="#666" stroke-width="0.9"/>
<rect x="133.6" y="1035.5" width="86.7" height="86.7" fill="none" stroke="#666" stroke-width="0.9"/>
<path d="M45.0 1121.8 L58.0 1121.5 L62.1 1121.2 L67.5 1118.5 L70.2 1113.1 L71.8 1108.4 L73.6 1106.3 L74.9 1099.6 L76.9 1092.9 L78.9 1087.5 L80.3 1082.1 L83.0 1082.1 L83.9 1078.1 L86.1 1074.0 L87.4 1068.7 L88.8 1060.6 L90.1 1055.2 L91.1 1057.2 L92.4 1062.6 L93.3 1057.9 L94.4 1053.2 L95.5 1056.5 L96.4 1059.9 L97.4 1059.9 L99.1 1067.3 L100.5 1075.4 L101.8 1088.8 L103.2 1102.3 L105.2 1113.1 L107.2 1118.5 L109.9 1121.2 L114.0 1121.6 L130.0 1121.8" fill="#e4e4e4" stroke="#383838" stroke-width="1.0" stroke-linejoin="round" opacity="1"/>
<path d="M45.0 1121.8 L55.0 1121.5 L58.1 1120.8 L62.1 1117.8 L64.8 1111.7 L66.8 1102.3 L68.2 1088.8 L69.5 1074.0 L70.9 1060.6 L72.2 1056.5 L73.2 1049.8 L74.2 1046.8 L76.2 1047.8 L77.6 1048.5 L78.5 1057.9 L80.3 1070.0 L82.3 1078.1 L84.3 1087.5 L86.3 1092.9 L88.4 1098.3 L89.7 1101.0 L90.4 1099.6 L92.4 1106.3 L95.8 1112.4 L99.1 1117.8 L102.5 1121.0 L106.0 1121.6 L130.0 1121.8" fill="none" stroke="#666" stroke-width="0.9" stroke-linejoin="round" opacity="1"/>
<path d="M134.0 1121.8 L143.1 1121.3 L148.5 1119.1 L151.8 1114.4 L154.5 1105.0 L156.5 1092.9 L158.2 1079.4 L159.9 1066.0 L161.2 1059.9 L162.6 1051.2 L163.7 1046.4 L164.9 1052.5 L166.0 1057.2 L168.0 1055.9 L169.3 1063.9 L170.3 1070.0 L171.6 1066.0 L173.1 1071.3 L174.7 1072.0 L176.1 1074.7 L177.4 1073.4 L178.7 1078.7 L179.8 1074.7 L181.4 1080.8 L183.5 1084.8 L185.1 1092.9 L186.8 1103.6 L188.8 1113.1 L190.9 1118.5 L194.2 1121.2 L198.0 1121.6 L220.0 1121.8" fill="#e4e4e4" stroke="#383838" stroke-width="1.0" stroke-linejoin="round" opacity="1"/>
<path d="M134.0 1121.8 L144.4 1121.3 L149.8 1117.1 L153.2 1107.7 L155.2 1095.6 L157.2 1080.8 L159.2 1066.0 L161.2 1057.9 L162.9 1048.5 L163.9 1047.8 L165.3 1057.9 L166.6 1059.9 L168.0 1067.3 L169.7 1078.1 L171.3 1087.5 L173.4 1096.9 L175.4 1103.6 L178.1 1108.4 L181.4 1109.7 L184.1 1111.7 L186.8 1115.8 L188.8 1119.1 L190.9 1121.0 L195.0 1121.6 L220.0 1121.8" fill="none" stroke="#666" stroke-width="0.9" stroke-linejoin="round" opacity="1"/>
<text x="49" y="1130.3" class="t" font-size="4.2" text-anchor="middle" font-weight="bold" fill="#3a3a3a">10<tspan dy="-1.7" font-size="2.9">0</tspan></text>
<text x="67" y="1130.3" class="t" font-size="4.2" text-anchor="middle" font-weight="bold" fill="#3a3a3a">10<tspan dy="-1.7" font-size="2.9">1</tspan></text>
<text x="89.2" y="1130.3" class="t" font-size="4.2" text-anchor="middle" font-weight="bold" fill="#3a3a3a">10<tspan dy="-1.7" font-size="2.9">2</tspan></text>
<text x="110.4" y="1130.3" class="t" font-size="4.2" text-anchor="middle" font-weight="bold" fill="#3a3a3a">10<tspan dy="-1.7" font-size="2.9">3</tspan></text>
<text x="138.8" y="1130.3" class="t" font-size="4.2" text-anchor="middle" font-weight="bold" fill="#3a3a3a">10<tspan dy="-1.7" font-size="2.9">0</tspan></text>
<text x="156" y="1130.3" class="t" font-size="4.2" text-anchor="middle" font-weight="bold" fill="#3a3a3a">10<tspan dy="-1.7" font-size="2.9">1</tspan></text>
<text x="179.2" y="1130.3" class="t" font-size="4.2" text-anchor="middle" font-weight="bold" fill="#3a3a3a">10<tspan dy="-1.7" font-size="2.9">2</tspan></text>
<text x="200" y="1130.3" class="t" font-size="4.2" text-anchor="middle" font-weight="bold" fill="#3a3a3a">10<tspan dy="-1.7" font-size="2.9">3</tspan></text>
<text x="219.6" y="1130.3" class="t" font-size="4.2" text-anchor="middle" font-weight="bold" fill="#3a3a3a">10<tspan dy="-1.7" font-size="2.9">4</tspan></text>
<line x1="44.3" y1="1122.2" x2="130.8" y2="1122.2" stroke="#333" stroke-width="1.1"/>
<line x1="44.3" y1="1122.2" x2="44.3" y2="1124.4" stroke="#444" stroke-width="0.5"/>
<line x1="50.8" y1="1122.2" x2="50.8" y2="1123.4" stroke="#444" stroke-width="0.5"/>
<line x1="54.6" y1="1122.2" x2="54.6" y2="1123.4" stroke="#444" stroke-width="0.5"/>
<line x1="57.3" y1="1122.2" x2="57.3" y2="1123.4" stroke="#444" stroke-width="0.5"/>
<line x1="59.4" y1="1122.2" x2="59.4" y2="1123.4" stroke="#444" stroke-width="0.5"/>
<line x1="61.1" y1="1122.2" x2="61.1" y2="1123.4" stroke="#444" stroke-width="0.5"/>
<line x1="62.6" y1="1122.2" x2="62.6" y2="1123.4" stroke="#444" stroke-width="0.5"/>
<line x1="63.8" y1="1122.2" x2="63.8" y2="1123.4" stroke="#444" stroke-width="0.5"/>
<line x1="64.9" y1="1122.2" x2="64.9" y2="1123.4" stroke="#444" stroke-width="0.5"/>
<line x1="65.9" y1="1122.2" x2="65.9" y2="1124.4" stroke="#444" stroke-width="0.5"/>
<line x1="72.4" y1="1122.2" x2="72.4" y2="1123.4" stroke="#444" stroke-width="0.5"/>
<line x1="76.2" y1="1122.2" x2="76.2" y2="1123.4" stroke="#444" stroke-width="0.5"/>
<line x1="78.9" y1="1122.2" x2="78.9" y2="1123.4" stroke="#444" stroke-width="0.5"/>
<line x1="81.0" y1="1122.2" x2="81.0" y2="1123.4" stroke="#444" stroke-width="0.5"/>
<line x1="82.7" y1="1122.2" x2="82.7" y2="1123.4" stroke="#444" stroke-width="0.5"/>
<line x1="84.2" y1="1122.2" x2="84.2" y2="1123.4" stroke="#444" stroke-width="0.5"/>
<line x1="85.4" y1="1122.2" x2="85.4" y2="1123.4" stroke="#444" stroke-width="0.5"/>
<line x1="86.5" y1="1122.2" x2="86.5" y2="1123.4" stroke="#444" stroke-width="0.5"/>
<line x1="87.5" y1="1122.2" x2="87.5" y2="1124.4" stroke="#444" stroke-width="0.5"/>
<line x1="94.0" y1="1122.2" x2="94.0" y2="1123.4" stroke="#444" stroke-width="0.5"/>
<line x1="97.8" y1="1122.2" x2="97.8" y2="1123.4" stroke="#444" stroke-width="0.5"/>
<line x1="100.5" y1="1122.2" x2="100.5" y2="1123.4" stroke="#444" stroke-width="0.5"/>
<line x1="102.6" y1="1122.2" x2="102.6" y2="1123.4" stroke="#444" stroke-width="0.5"/>
<line x1="104.3" y1="1122.2" x2="104.3" y2="1123.4" stroke="#444" stroke-width="0.5"/>
<line x1="105.8" y1="1122.2" x2="105.8" y2="1123.4" stroke="#444" stroke-width="0.5"/>
<line x1="107.0" y1="1122.2" x2="107.0" y2="1123.4" stroke="#444" stroke-width="0.5"/>
<line x1="108.1" y1="1122.2" x2="108.1" y2="1123.4" stroke="#444" stroke-width="0.5"/>
<line x1="109.1" y1="1122.2" x2="109.1" y2="1124.4" stroke="#444" stroke-width="0.5"/>
<line x1="115.6" y1="1122.2" x2="115.6" y2="1123.4" stroke="#444" stroke-width="0.5"/>
<line x1="119.4" y1="1122.2" x2="119.4" y2="1123.4" stroke="#444" stroke-width="0.5"/>
<line x1="122.1" y1="1122.2" x2="122.1" y2="1123.4" stroke="#444" stroke-width="0.5"/>
<line x1="124.2" y1="1122.2" x2="124.2" y2="1123.4" stroke="#444" stroke-width="0.5"/>
<line x1="125.9" y1="1122.2" x2="125.9" y2="1123.4" stroke="#444" stroke-width="0.5"/>
<line x1="127.4" y1="1122.2" x2="127.4" y2="1123.4" stroke="#444" stroke-width="0.5"/>
<line x1="128.6" y1="1122.2" x2="128.6" y2="1123.4" stroke="#444" stroke-width="0.5"/>
<line x1="129.7" y1="1122.2" x2="129.7" y2="1123.4" stroke="#444" stroke-width="0.5"/>
<line x1="130.7" y1="1122.2" x2="130.7" y2="1124.4" stroke="#444" stroke-width="0.5"/>
<line x1="133.6" y1="1122.2" x2="220.1" y2="1122.2" stroke="#333" stroke-width="1.1"/>
<line x1="133.6" y1="1122.2" x2="133.6" y2="1124.4" stroke="#444" stroke-width="0.5"/>
<line x1="140.1" y1="1122.2" x2="140.1" y2="1123.4" stroke="#444" stroke-width="0.5"/>
<line x1="143.9" y1="1122.2" x2="143.9" y2="1123.4" stroke="#444" stroke-width="0.5"/>
<line x1="146.6" y1="1122.2" x2="146.6" y2="1123.4" stroke="#444" stroke-width="0.5"/>
<line x1="148.7" y1="1122.2" x2="148.7" y2="1123.4" stroke="#444" stroke-width="0.5"/>
<line x1="150.4" y1="1122.2" x2="150.4" y2="1123.4" stroke="#444" stroke-width="0.5"/>
<line x1="151.9" y1="1122.2" x2="151.9" y2="1123.4" stroke="#444" stroke-width="0.5"/>
<line x1="153.1" y1="1122.2" x2="153.1" y2="1123.4" stroke="#444" stroke-width="0.5"/>
<line x1="154.2" y1="1122.2" x2="154.2" y2="1123.4" stroke="#444" stroke-width="0.5"/>
<line x1="155.2" y1="1122.2" x2="155.2" y2="1124.4" stroke="#444" stroke-width="0.5"/>
<line x1="161.7" y1="1122.2" x2="161.7" y2="1123.4" stroke="#444" stroke-width="0.5"/>
<line x1="165.5" y1="1122.2" x2="165.5" y2="1123.4" stroke="#444" stroke-width="0.5"/>
<line x1="168.2" y1="1122.2" x2="168.2" y2="1123.4" stroke="#444" stroke-width="0.5"/>
<line x1="170.3" y1="1122.2" x2="170.3" y2="1123.4" stroke="#444" stroke-width="0.5"/>
<line x1="172.0" y1="1122.2" x2="172.0" y2="1123.4" stroke="#444" stroke-width="0.5"/>
<line x1="173.5" y1="1122.2" x2="173.5" y2="1123.4" stroke="#444" stroke-width="0.5"/>
<line x1="174.7" y1="1122.2" x2="174.7" y2="1123.4" stroke="#444" stroke-width="0.5"/>
<line x1="175.8" y1="1122.2" x2="175.8" y2="1123.4" stroke="#444" stroke-width="0.5"/>
<line x1="176.8" y1="1122.2" x2="176.8" y2="1124.4" stroke="#444" stroke-width="0.5"/>
<line x1="183.3" y1="1122.2" x2="183.3" y2="1123.4" stroke="#444" stroke-width="0.5"/>
<line x1="187.1" y1="1122.2" x2="187.1" y2="1123.4" stroke="#444" stroke-width="0.5"/>
<line x1="189.8" y1="1122.2" x2="189.8" y2="1123.4" stroke="#444" stroke-width="0.5"/>
<line x1="191.9" y1="1122.2" x2="191.9" y2="1123.4" stroke="#444" stroke-width="0.5"/>
<line x1="193.6" y1="1122.2" x2="193.6" y2="1123.4" stroke="#444" stroke-width="0.5"/>
<line x1="195.1" y1="1122.2" x2="195.1" y2="1123.4" stroke="#444" stroke-width="0.5"/>
<line x1="196.3" y1="1122.2" x2="196.3" y2="1123.4" stroke="#444" stroke-width="0.5"/>
<line x1="197.4" y1="1122.2" x2="197.4" y2="1123.4" stroke="#444" stroke-width="0.5"/>
<line x1="198.4" y1="1122.2" x2="198.4" y2="1124.4" stroke="#444" stroke-width="0.5"/>
<line x1="204.9" y1="1122.2" x2="204.9" y2="1123.4" stroke="#444" stroke-width="0.5"/>
<line x1="208.7" y1="1122.2" x2="208.7" y2="1123.4" stroke="#444" stroke-width="0.5"/>
<line x1="211.4" y1="1122.2" x2="211.4" y2="1123.4" stroke="#444" stroke-width="0.5"/>
<line x1="213.5" y1="1122.2" x2="213.5" y2="1123.4" stroke="#444" stroke-width="0.5"/>
<line x1="215.2" y1="1122.2" x2="215.2" y2="1123.4" stroke="#444" stroke-width="0.5"/>
<line x1="216.7" y1="1122.2" x2="216.7" y2="1123.4" stroke="#444" stroke-width="0.5"/>
<line x1="217.9" y1="1122.2" x2="217.9" y2="1123.4" stroke="#444" stroke-width="0.5"/>
<line x1="219.0" y1="1122.2" x2="219.0" y2="1123.4" stroke="#444" stroke-width="0.5"/>
<line x1="220.0" y1="1122.2" x2="220.0" y2="1124.4" stroke="#444" stroke-width="0.5"/>
<text x="263.5" y="970.3" font-size="20" text-anchor="start" font-weight="bold" fill="#000">J</text>
<text x="334.2" y="1119.202" font-size="10.7" text-anchor="end" font-weight="bold" fill="#000">0</text>
<text x="334.2" y="1101.102" font-size="10.7" text-anchor="end" font-weight="bold" fill="#000">100</text>
<text x="334.2" y="1083.002" font-size="10.7" text-anchor="end" font-weight="bold" fill="#000">200</text>
<text x="334.2" y="1064.902" font-size="10.7" text-anchor="end" font-weight="bold" fill="#000">300</text>
<text x="334.2" y="1046.802" font-size="10.7" text-anchor="end" font-weight="bold" fill="#000">400</text>
<text x="334.2" y="1028.702" font-size="10.7" text-anchor="end" font-weight="bold" fill="#000">500</text>
<text x="334.2" y="1010.602" font-size="10.7" text-anchor="end" font-weight="bold" fill="#000">600</text>
<text x="334.2" y="992.502" font-size="10.7" text-anchor="end" font-weight="bold" fill="#000">700</text>
<rect x="349.75" y="1095.5" width="11.5" height="18.25" fill="#fff" stroke="#222" stroke-width="1"/>
<rect x="362.25" y="1107.5" width="11.5" height="6.25" fill="#000" stroke="#111" stroke-width="1"/>
<line x1="355.5" y1="1093.25" x2="355.5" y2="1095" stroke="#444" stroke-width="1"/>
<line x1="353.0" y1="1093.25" x2="358.0" y2="1093.25" stroke="#444" stroke-width="1"/>
<line x1="368" y1="1103.75" x2="368" y2="1107" stroke="#444" stroke-width="1"/>
<line x1="365.5" y1="1103.75" x2="370.5" y2="1103.75" stroke="#444" stroke-width="1"/>
<rect x="393.5" y="1065.0" width="11.5" height="48.75" fill="#fff" stroke="#222" stroke-width="1"/>
<rect x="406.0" y="1087.25" width="11.5" height="26.5" fill="#000" stroke="#111" stroke-width="1"/>
<line x1="399.25" y1="1056.25" x2="399.25" y2="1064.5" stroke="#444" stroke-width="1"/>
<line x1="396.75" y1="1056.25" x2="401.75" y2="1056.25" stroke="#444" stroke-width="1"/>
<line x1="411.75" y1="1082" x2="411.75" y2="1086.75" stroke="#444" stroke-width="1"/>
<line x1="409.25" y1="1082" x2="414.25" y2="1082" stroke="#444" stroke-width="1"/>
<rect x="436.7" y="1100.5" width="11.800000000000011" height="13.25" fill="#fff" stroke="#222" stroke-width="1"/>
<rect x="449.5" y="1101.7" width="11.600000000000023" height="12.049999999999955" fill="#000" stroke="#111" stroke-width="1"/>
<line x1="442.7" y1="1097.3" x2="442.7" y2="1100" stroke="#444" stroke-width="1"/>
<line x1="440.2" y1="1097.3" x2="445.2" y2="1097.3" stroke="#444" stroke-width="1"/>
<line x1="455.4" y1="1097.3" x2="455.4" y2="1101.2" stroke="#444" stroke-width="1"/>
<line x1="452.9" y1="1097.3" x2="457.9" y2="1097.3" stroke="#444" stroke-width="1"/>
<rect x="480.5" y="1022.5" width="12" height="91.25" fill="#fff" stroke="#222" stroke-width="1"/>
<rect x="493.5" y="1087.9" width="11.5" height="25.84999999999991" fill="#000" stroke="#111" stroke-width="1"/>
<line x1="486.25" y1="1008.75" x2="486.25" y2="1022" stroke="#444" stroke-width="1"/>
<line x1="483.75" y1="1008.75" x2="488.75" y2="1008.75" stroke="#444" stroke-width="1"/>
<line x1="498.8" y1="1080" x2="498.8" y2="1087.4" stroke="#444" stroke-width="1"/>
<line x1="496.3" y1="1080" x2="501.3" y2="1080" stroke="#444" stroke-width="1"/>
<rect x="397.8" y="990.8" width="5.8" height="5.8" fill="#fff" stroke="#222" stroke-width="0.9"/>
<rect x="397.8" y="1004.5" width="5.8" height="5.8" fill="#000" stroke="#000" stroke-width="0.9"/>
<text x="404.5" y="997" font-size="11" text-anchor="start" font-weight="bold" fill="#000">Scramble</text>
<text x="407" y="1011.5" font-size="11" text-anchor="start" font-weight="bold" fill="#000">KD-HIF</text>
<text x="360" y="1129.7" font-size="11" text-anchor="middle" font-weight="bold" fill="#000">Ctrl</text>
<text x="405.75" y="1129.7" font-size="11" text-anchor="middle" font-weight="bold" fill="#000">SDF</text>
<text x="382.5" y="1144.4" font-size="11" text-anchor="middle" font-weight="bold" fill="#000">Norm</text>
<text x="451.2" y="1129.7" font-size="11" text-anchor="middle" font-weight="bold" fill="#000">Ct</text>
<text x="492.3" y="1129.7" font-size="11" text-anchor="middle" font-weight="bold" fill="#000">SDF</text>
<text x="471.5" y="1144.4" font-size="11" text-anchor="middle" font-weight="bold" fill="#000">Hyp</text>
<text font-size="11" font-weight="bold" text-anchor="middle" transform="translate(296.46,1045.3) rotate(-90)">Migration</text>
<text font-size="11" font-weight="bold" text-anchor="middle" transform="translate(309.85999999999996,1043.7) rotate(-90)">(% Ctrl)</text>
</g>
<g filter="url(#gb2)">
<line x1="71" y1="31" x2="71" y2="159.5" stroke="#bdbdbd" stroke-width="1"/>
<line x1="71" y1="159.5" x2="206" y2="159.5" stroke="#bdbdbd" stroke-width="1"/>
<line x1="68" y1="159.5" x2="71" y2="159.5" stroke="#bdbdbd" stroke-width="1"/>
<line x1="68" y1="141.28571428571428" x2="71" y2="141.28571428571428" stroke="#bdbdbd" stroke-width="1"/>
<line x1="68" y1="123.07142857142857" x2="71" y2="123.07142857142857" stroke="#bdbdbd" stroke-width="1"/>
<line x1="68" y1="104.85714285714286" x2="71" y2="104.85714285714286" stroke="#bdbdbd" stroke-width="1"/>
<line x1="68" y1="86.64285714285714" x2="71" y2="86.64285714285714" stroke="#bdbdbd" stroke-width="1"/>
<line x1="68" y1="68.42857142857142" x2="71" y2="68.42857142857142" stroke="#bdbdbd" stroke-width="1"/>
<line x1="68" y1="50.21428571428571" x2="71" y2="50.21428571428571" stroke="#bdbdbd" stroke-width="1"/>
<line x1="68" y1="32.0" x2="71" y2="32.0" stroke="#bdbdbd" stroke-width="1"/>
<line x1="71.0" y1="159.5" x2="71.0" y2="162.5" stroke="#bdbdbd" stroke-width="1"/>
<line x1="90.1" y1="159.5" x2="90.1" y2="162.5" stroke="#bdbdbd" stroke-width="1"/>
<line x1="109.2" y1="159.5" x2="109.2" y2="162.5" stroke="#bdbdbd" stroke-width="1"/>
<line x1="128.3" y1="159.5" x2="128.3" y2="162.5" stroke="#bdbdbd" stroke-width="1"/>
<line x1="147.4" y1="159.5" x2="147.4" y2="162.5" stroke="#bdbdbd" stroke-width="1"/>
<line x1="166.5" y1="159.5" x2="166.5" y2="162.5" stroke="#bdbdbd" stroke-width="1"/>
<line x1="185.60000000000002" y1="159.5" x2="185.60000000000002" y2="162.5" stroke="#bdbdbd" stroke-width="1"/>
<line x1="204.70000000000002" y1="159.5" x2="204.70000000000002" y2="162.5" stroke="#bdbdbd" stroke-width="1"/>
<line x1="343.75" y1="12.5" x2="343.75" y2="160.5" stroke="#6e6e6e" stroke-width="1"/>
<line x1="343.75" y1="160.5" x2="480" y2="160.5" stroke="#6e6e6e" stroke-width="1"/>
<line x1="340.75" y1="160.5" x2="343.75" y2="160.5" stroke="#6e6e6e" stroke-width="1"/>
<line x1="340.75" y1="139.5" x2="343.75" y2="139.5" stroke="#6e6e6e" stroke-width="1"/>
<line x1="340.75" y1="118.5" x2="343.75" y2="118.5" stroke="#6e6e6e" stroke-width="1"/>
<line x1="340.75" y1="97.5" x2="343.75" y2="97.5" stroke="#6e6e6e" stroke-width="1"/>
<line x1="340.75" y1="76.5" x2="343.75" y2="76.5" stroke="#6e6e6e" stroke-width="1"/>
<line x1="340.75" y1="55.5" x2="343.75" y2="55.5" stroke="#6e6e6e" stroke-width="1"/>
<line x1="340.75" y1="34.5" x2="343.75" y2="34.5" stroke="#6e6e6e" stroke-width="1"/>
<line x1="340.75" y1="13.5" x2="343.75" y2="13.5" stroke="#6e6e6e" stroke-width="1"/>
<line x1="412.5" y1="160.5" x2="412.5" y2="163.5" stroke="#6e6e6e" stroke-width="1"/>
<line x1="480" y1="160.5" x2="480" y2="163.5" stroke="#6e6e6e" stroke-width="1"/>
<line x1="353.75" y1="283.5" x2="353.75" y2="421.7" stroke="#999" stroke-width="1"/>
<line x1="353.75" y1="421.7" x2="508" y2="421.7" stroke="#999" stroke-width="1"/>
<line x1="350.75" y1="421.7" x2="353.75" y2="421.7" stroke="#999" stroke-width="1"/>
<line x1="350.75" y1="391.2" x2="353.75" y2="391.2" stroke="#999" stroke-width="1"/>
<line x1="350.75" y1="360.7" x2="353.75" y2="360.7" stroke="#999" stroke-width="1"/>
<line x1="350.75" y1="330.2" x2="353.75" y2="330.2" stroke="#999" stroke-width="1"/>
<line x1="350.75" y1="299.7" x2="353.75" y2="299.7" stroke="#999" stroke-width="1"/>
<line x1="431.2" y1="421.7" x2="431.2" y2="425.7" stroke="#999" stroke-width="1"/>
<line x1="508" y1="421.7" x2="508" y2="425.7" stroke="#999" stroke-width="1"/>
<line x1="61.25" y1="502" x2="61.25" y2="680" stroke="#b4b4b4" stroke-width="1"/>
<line x1="61.25" y1="624.5" x2="271.5" y2="624.5" stroke="#b4b4b4" stroke-width="1"/>
<line x1="271.5" y1="624.5" x2="271.5" y2="680" stroke="#c4c4c4" stroke-width="1"/>
<line x1="58.25" y1="624.5" x2="61.25" y2="624.5" stroke="#b4b4b4" stroke-width="1"/>
<line x1="58.25" y1="604.15" x2="61.25" y2="604.15" stroke="#b4b4b4" stroke-width="1"/>
<line x1="58.25" y1="583.8" x2="61.25" y2="583.8" stroke="#b4b4b4" stroke-width="1"/>
<line x1="58.25" y1="563.45" x2="61.25" y2="563.45" stroke="#b4b4b4" stroke-width="1"/>
<line x1="58.25" y1="543.1" x2="61.25" y2="543.1" stroke="#b4b4b4" stroke-width="1"/>
<line x1="58.25" y1="522.75" x2="61.25" y2="522.75" stroke="#b4b4b4" stroke-width="1"/>
<line x1="58.25" y1="502.4" x2="61.25" y2="502.4" stroke="#b4b4b4" stroke-width="1"/>
<line x1="114.5" y1="624.5" x2="114.5" y2="658.5" stroke="#b4b4b4" stroke-width="1"/>
<line x1="166.7" y1="624.5" x2="166.7" y2="680" stroke="#b4b4b4" stroke-width="1"/>
<line x1="218.8" y1="624.5" x2="218.8" y2="658.5" stroke="#b4b4b4" stroke-width="1"/>
<line x1="367.5" y1="513.5" x2="367.5" y2="650.75" stroke="#a0a0a0" stroke-width="1"/>
<line x1="367.5" y1="650.75" x2="508.5" y2="650.75" stroke="#a0a0a0" stroke-width="1"/>
<line x1="364.5" y1="650.75" x2="367.5" y2="650.75" stroke="#a0a0a0" stroke-width="1"/>
<line x1="364.5" y1="635.61" x2="367.5" y2="635.61" stroke="#a0a0a0" stroke-width="1"/>
<line x1="364.5" y1="620.47" x2="367.5" y2="620.47" stroke="#a0a0a0" stroke-width="1"/>
<line x1="364.5" y1="605.33" x2="367.5" y2="605.33" stroke="#a0a0a0" stroke-width="1"/>
<line x1="364.5" y1="590.19" x2="367.5" y2="590.19" stroke="#a0a0a0" stroke-width="1"/>
<line x1="364.5" y1="575.05" x2="367.5" y2="575.05" stroke="#a0a0a0" stroke-width="1"/>
<line x1="364.5" y1="559.91" x2="367.5" y2="559.91" stroke="#a0a0a0" stroke-width="1"/>
<line x1="364.5" y1="544.77" x2="367.5" y2="544.77" stroke="#a0a0a0" stroke-width="1"/>
<line x1="364.5" y1="529.63" x2="367.5" y2="529.63" stroke="#a0a0a0" stroke-width="1"/>
<line x1="364.5" y1="514.49" x2="367.5" y2="514.49" stroke="#a0a0a0" stroke-width="1"/>
<line x1="438" y1="650.75" x2="438" y2="654.25" stroke="#a0a0a0" stroke-width="1"/>
<line x1="508.5" y1="650.75" x2="508.5" y2="654.25" stroke="#a0a0a0" stroke-width="1"/>
<line x1="66.25" y1="736" x2="66.25" y2="931" stroke="#a0a0a0" stroke-width="1"/>
<line x1="66.25" y1="885.5" x2="228.25" y2="885.5" stroke="#a0a0a0" stroke-width="1"/>
<line x1="63.25" y1="885.5" x2="66.25" y2="885.5" stroke="#a0a0a0" stroke-width="1"/>
<line x1="63.25" y1="866.84" x2="66.25" y2="866.84" stroke="#a0a0a0" stroke-width="1"/>
<line x1="63.25" y1="848.18" x2="66.25" y2="848.18" stroke="#a0a0a0" stroke-width="1"/>
<line x1="63.25" y1="829.52" x2="66.25" y2="829.52" stroke="#a0a0a0" stroke-width="1"/>
<line x1="63.25" y1="810.86" x2="66.25" y2="810.86" stroke="#a0a0a0" stroke-width="1"/>
<line x1="63.25" y1="792.2" x2="66.25" y2="792.2" stroke="#a0a0a0" stroke-width="1"/>
<line x1="63.25" y1="773.54" x2="66.25" y2="773.54" stroke="#a0a0a0" stroke-width="1"/>
<line x1="63.25" y1="754.88" x2="66.25" y2="754.88" stroke="#a0a0a0" stroke-width="1"/>
<line x1="63.25" y1="736.22" x2="66.25" y2="736.22" stroke="#a0a0a0" stroke-width="1"/>
<line x1="121.75" y1="885.5" x2="121.75" y2="931" stroke="#a0a0a0" stroke-width="1"/>
<line x1="174.5" y1="885.5" x2="174.5" y2="915" stroke="#a0a0a0" stroke-width="1"/>
<line x1="228.25" y1="885.5" x2="228.25" y2="931" stroke="#a0a0a0" stroke-width="1"/>
<line x1="339.5" y1="985" x2="339.5" y2="1141" stroke="#b0b0b0" stroke-width="1"/>
<line x1="339.5" y1="1113.75" x2="514.7" y2="1113.75" stroke="#b0b0b0" stroke-width="1"/>
<line x1="336.5" y1="1113.75" x2="339.5" y2="1113.75" stroke="#b0b0b0" stroke-width="1"/>
<line x1="336.5" y1="1095.65" x2="339.5" y2="1095.65" stroke="#b0b0b0" stroke-width="1"/>
<line x1="336.5" y1="1077.55" x2="339.5" y2="1077.55" stroke="#b0b0b0" stroke-width="1"/>
<line x1="336.5" y1="1059.45" x2="339.5" y2="1059.45" stroke="#b0b0b0" stroke-width="1"/>
<line x1="336.5" y1="1041.35" x2="339.5" y2="1041.35" stroke="#b0b0b0" stroke-width="1"/>
<line x1="336.5" y1="1023.25" x2="339.5" y2="1023.25" stroke="#b0b0b0" stroke-width="1"/>
<line x1="336.5" y1="1005.15" x2="339.5" y2="1005.15" stroke="#b0b0b0" stroke-width="1"/>
<line x1="336.5" y1="987.05" x2="339.5" y2="987.05" stroke="#b0b0b0" stroke-width="1"/>
<line x1="383.25" y1="1113.75" x2="383.25" y2="1132" stroke="#b0b0b0" stroke-width="1"/>
<line x1="427.7" y1="1113.75" x2="427.7" y2="1141" stroke="#b0b0b0" stroke-width="1"/>
<line x1="470.4" y1="1113.75" x2="470.4" y2="1131" stroke="#b0b0b0" stroke-width="1"/>
<line x1="514.7" y1="1113.75" x2="514.7" y2="1141" stroke="#b0b0b0" stroke-width="1"/>
</g>
</svg>
</body></html>
